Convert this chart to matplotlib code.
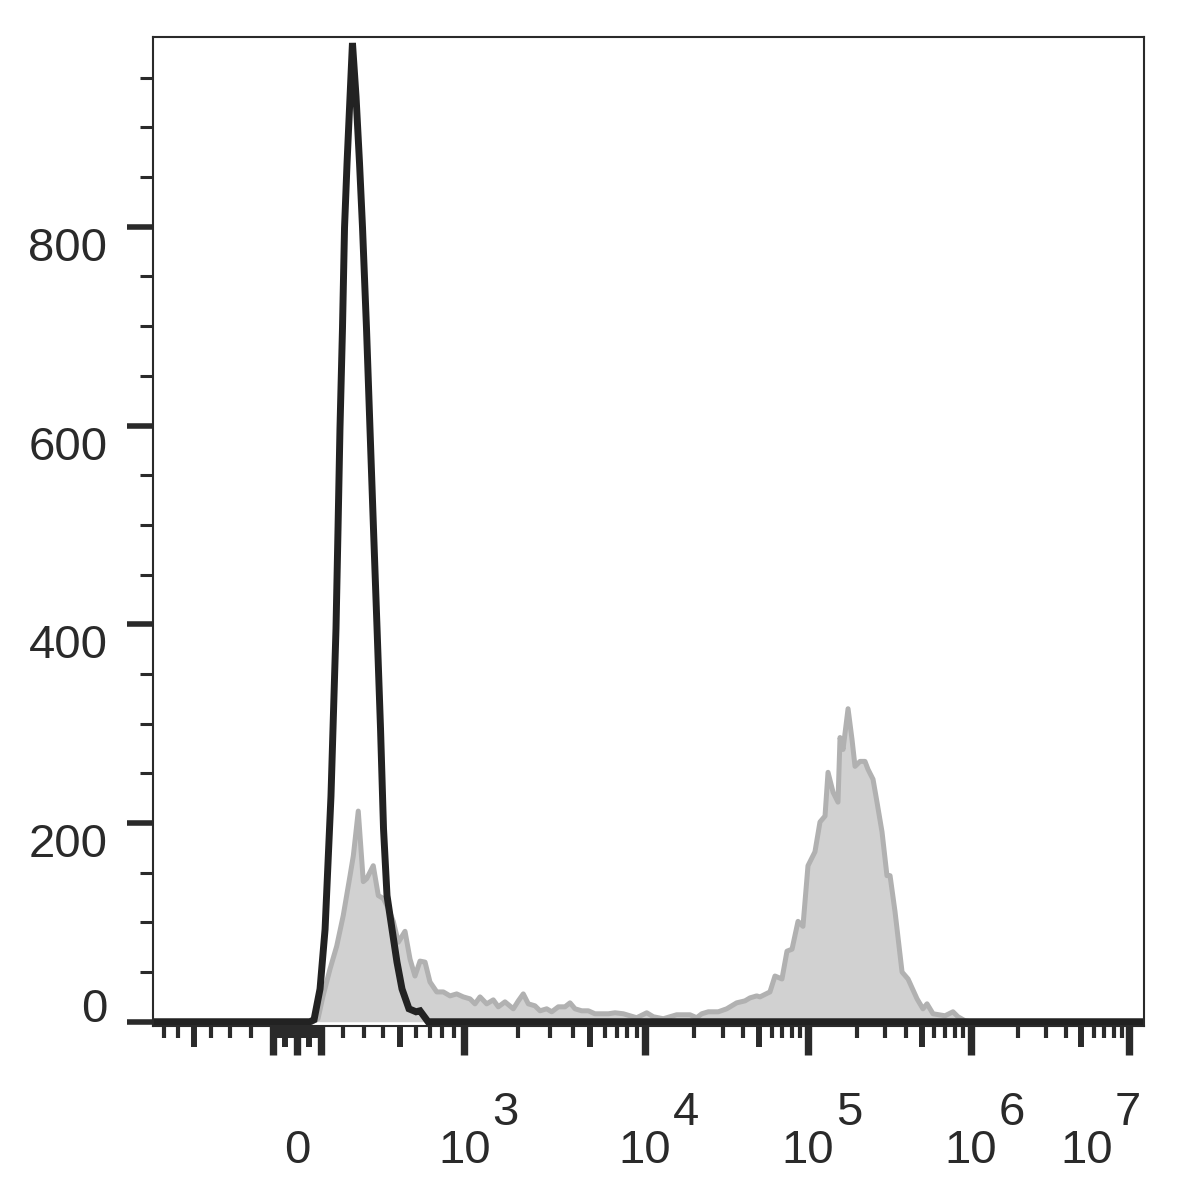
import matplotlib
matplotlib.use("Agg")
import matplotlib.pyplot as plt
import matplotlib.transforms as mtransforms
import numpy as np

plt.rcParams['font.family'] = ['Liberation Sans', 'DejaVu Sans']

# histogram: x in display channels (0-1024 across the plot), y in events
black_ch = [0, 162.2, 166.4, 172.6, 177.8, 180.8, 183.9, 186.0, 189.1, 191.2, 193.2, 195.8,
            197.9, 200.5, 203.6, 206.1, 209.8, 213.4, 216.5, 220.6, 224.2, 227.8, 231.5,
            235.1, 238.2, 241.8, 247.0, 252.1, 257.3, 264.5, 271.8, 275.9, 284.2, 1024]
black_count = [0, 0, 2, 33, 93, 159, 227, 295, 396, 497, 597, 698,
               799, 864, 931, 985, 931, 864, 799, 698, 597, 497, 396,
               295, 194, 127, 93, 60, 33, 13, 10, 11, 0, 0]

gray_ch = [165.0, 170.5, 175.7, 182.9, 189.8, 196.6, 203.6, 207.0, 212.1, 217.3, 220.8,
           227.6, 232.8, 238.0, 243.1, 248.3, 253.5, 260.4, 265.6, 270.7, 275.9, 281.1,
           286.2, 293.2, 300.0, 306.9, 313.8, 320.6, 327.6, 332.7, 337.9, 344.8, 351.6,
           356.8, 363.7, 372.3, 377.5, 382.6, 387.8, 394.7, 399.9, 406.8, 412.0, 418.8,
           425.7, 430.9, 436.1, 443.0, 449.8, 456.7, 463.6, 470.5, 477.4, 486.0, 492.9,
           499.8, 510.2, 517.0, 527.3, 541.1, 554.9, 561.8, 567.0, 573.8, 584.1, 592.8,
           603.1, 611.7, 616.9, 623.8, 627.2, 637.5, 642.7, 649.9, 655.1, 660.3, 666.5,
           671.6, 676.8, 684.0, 689.2, 694.4, 697.5, 702.7, 707.8, 709.9, 713.0, 718.2,
           722.3, 725.4, 730.6, 735.7, 738.8, 744.0, 748.1, 753.3, 758.4, 761.6, 766.7,
           774.0, 780.2, 789.5, 795.6, 799.8, 806.0, 818.4, 826.6, 831.8, 839.0, 845.0]
gray_count = [0, 3, 26, 53, 76, 107, 147, 167, 212, 141, 144,
              157, 127, 124, 114, 101, 80, 91, 63, 46, 61, 60,
              40, 30, 30, 26, 28, 25, 23, 18, 25, 18, 22,
              15, 20, 13, 21, 28, 18, 16, 11, 13, 10, 15,
              15, 19, 13, 11, 11, 8, 8, 8, 9, 8, 6,
              4, 9, 5, 3, 7, 7, 4, 8, 10, 10, 13,
              19, 21, 24, 26, 25, 30, 46, 43, 71, 73, 101,
              96, 157, 171, 201, 207, 251, 231, 221, 286, 274, 315,
              284, 257, 262, 262, 254, 244, 221, 191, 147, 147, 111,
              50, 43, 23, 13, 18, 8, 6, 10, 5, 1, 0]

y_major = [0, 200, 400, 600, 800]
y_minor = [50, 100, 150, 250, 300, 350, 450, 500, 550, 650, 700, 750, 850, 900, 950]
x_label_values = [0, 1e3, 1e4, 1e5, 1e6, 1e7]
x_label_exps = ['', '3', '4', '5', '6', '7']

# biexponential display: arcsinh around zero, log decades above 10^3
ZERO_CH = 148.8
LIN_W = 115.4
LIN_C = 470.0
DEC_EXP = [3, 4, 5, 6, 7]
DEC_CH = [321.0, 508.4, 676.5, 844.8, 1008.5]


def to_channel(v):
    v = np.asarray(v, dtype=float)
    near = ZERO_CH + LIN_W * np.arcsinh(v / LIN_C)
    far = np.interp(np.log10(np.maximum(np.abs(v), 1.0)), DEC_EXP, DEC_CH)
    return np.where(np.abs(v) <= 1000, near, far)


x_major = [-100, 0, 100, 1e3, 1e4, 1e5, 1e6, 1e7]
x_medium = [-500, -50, 50, 500, 5e3, 5e4, 5e5, 5e6]
x_minor = []
for k in [10, 20, 30, 40, 60, 70, 80, 90, 200, 300, 400, 600, 700]:
    x_minor += [-k, k]
x_minor += [800, 900]
for e in [3, 4, 5, 6]:
    for k in [2, 3, 4, 6, 7, 8, 9]:
        x_minor.append(k * 10 ** e)

ink = '#2a2a2a'
fig = plt.figure(figsize=(11.8, 11.82), dpi=100)
ax = fig.add_axes([153 / 1180, 1 - 1026 / 1182, 991 / 1180, 989 / 1182])

ax.fill_between(gray_ch, gray_count, 0, color='#d1d1d1', linewidth=0)
ax.plot(gray_ch, gray_count, color='#b1b1b1', linewidth=3.6)
ax.plot(black_ch, black_count, color='#222222', linewidth=5,
        solid_joinstyle='miter', solid_capstyle='butt')

for s in ax.spines.values():
    s.set_linewidth(1.5)
    s.set_color(ink)

ax.set_yticks(y_major)
ax.set_yticks(y_minor, minor=True)
ax.tick_params(axis='y', which='major', length=18.7, width=4, color=ink, labelleft=False)
ax.tick_params(axis='y', which='minor', length=9.4, width=2.2, color=ink)

ax.set_xticks(to_channel(x_major))
ax.set_xticks(to_channel(x_minor), minor=True)
ax.tick_params(axis='x', which='major', length=21, width=5.3, color=ink, labelbottom=False)
ax.tick_params(axis='x', which='minor', length=8.6, width=3, color=ink)

sec = ax.secondary_xaxis('bottom')
sec.set_xticks(to_channel(x_medium))
sec.tick_params(length=15, width=4.3, color=ink, labelbottom=False)
sec.spines['bottom'].set_visible(False)

# limits last, set_xticks would otherwise widen them
ax.set_xlim(0, 1024)
ax.set_ylim(-4.3, 991)

# y labels: top of digits level with the tick, the zero sits on its tick
ytr = ax.get_yaxis_transform()
for v in y_major:
    ax.text(-0.046, v, str(v), transform=ytr, ha='right',
            va='baseline' if v == 0 else 'top', fontsize=34, color=ink)

# x labels: "10" centred on the decade, exponent at full size, raised
xtr = ax.get_xaxis_transform()
for v, e in zip(x_label_values, x_label_exps):
    c = float(to_channel(v))
    shift = -0.42 if v == 1e7 else 0.0
    base = xtr + mtransforms.ScaledTranslation(shift, -1.37, fig.dpi_scale_trans)
    ax.text(c, 0, '0' if v == 0 else '10', transform=base, ha='center',
            va='baseline', fontsize=34, color=ink, clip_on=False)
    if e:
        sup = xtr + mtransforms.ScaledTranslation(shift + 0.28, -0.99, fig.dpi_scale_trans)
        ax.text(c, 0, e, transform=sup, ha='left', va='baseline',
                fontsize=34, color=ink, clip_on=False)

fig.savefig('out.png', dpi=100)
